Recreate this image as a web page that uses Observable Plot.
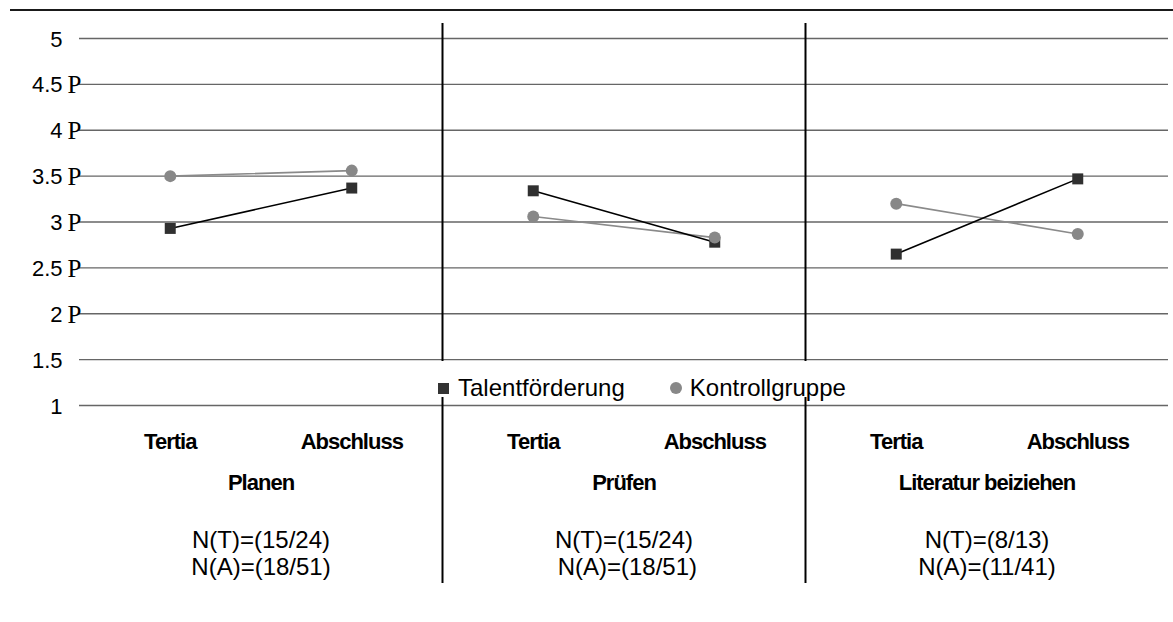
<!DOCTYPE html>
<html>
<head>
<meta charset="utf-8">
<script src="https://cdn.jsdelivr.net/npm/d3@7"></script>
<script src="https://cdn.jsdelivr.net/npm/@observablehq/plot@0.6"></script>
<style>
  html, body { margin: 0; padding: 0; background: #fff; }
  #wrap { position: relative; width: 1173px; height: 622px; font-family: "Liberation Sans", Arial, sans-serif; }
  #legend { position: absolute; left: 438px; top: 374px; height: 28px; display: flex; align-items: center; font-size: 24px; color: #000; line-height: 28px; white-space: nowrap; }
  .sq { width: 11px; height: 11px; background: #333; margin-right: 9px; }
  .ci { width: 12px; height: 12px; border-radius: 50%; background: #888; margin-left: 45px; margin-right: 8px; }
</style>
</head>
<body>
<div id="wrap"></div>
<script>
// ---- data ----
const panels = ["Planen", "Prüfen", "Literatur beiziehen"];
const times = ["Tertia", "Abschluss"];
const series = ["Talentförderung", "Kontrollgruppe"];
const talent = [2.93, 3.37, 3.34, 2.78, 2.65, 3.47];     // Planen T/A, Prüfen T/A, Literatur T/A
const kontroll = [3.50, 3.56, 3.06, 2.83, 3.20, 2.87];
const nT = ["N(T)=(15/24)", "N(T)=(15/24)", "N(T)=(8/13)"];
const nA = ["N(A)=(18/51)", " N(A)=(18/51)", "N(A)=(11/41)"];
const yTicks = [5, 4.5, 4, 3.5, 3, 2.5, 2, 1.5, 1];
const pTicks = [4.5, 4, 3.5, 3, 2.5, 2];

// ---- derived tables ----
const nTimes = times.length;
const cats = [];
panels.forEach((p, pi) => times.forEach((t, ti) => cats.push({panel: p, time: t, x: pi * nTimes + ti + 0.5})));
const rowsT = cats.map((c, i) => ({...c, value: talent[i], series: series[0]}));
const rowsK = cats.map((c, i) => ({...c, value: kontroll[i], series: series[1]}));
const panelRows = panels.map((p, pi) => ({panel: p, x: pi * nTimes + nTimes / 2, nT: nT[pi], nA: nA[pi]}));
const separators = panels.slice(1).map((p, pi) => (pi + 1) * nTimes);

const chart = Plot.plot({
  width: 1173,
  height: 622,
  marginLeft: 79,
  marginRight: 5,
  marginTop: 38,
  marginBottom: 217,
  x: {domain: [0, panels.length * nTimes], axis: null},
  y: {domain: [1, 5], axis: null},
  style: {fontFamily: "'Liberation Sans', Arial, sans-serif", color: "#000", background: "white"},
  marks: [
    Plot.ruleY(yTicks, {stroke: "#666", strokeWidth: 1.4}),
    Plot.ruleX(separators, {stroke: "#000", strokeWidth: 2, insetTop: -15, insetBottom: 44}),
    Plot.ruleX(separators, {stroke: "#000", strokeWidth: 2, insetTop: 359, insetBottom: -178}),
    Plot.text(yTicks, {y: d => d, text: d => String(d), frameAnchor: "left", textAnchor: "end", dx: -17, dy: 1, fontSize: 22, fill: "#000"}),
    Plot.text(pTicks, {y: d => d, text: () => "P", frameAnchor: "left", textAnchor: "start", dx: -12, dy: 1, fontSize: 25, fontFamily: "'Liberation Serif', 'DejaVu Serif', serif", fill: "#000"}),
    Plot.line(rowsK, {x: "x", y: "value", z: "panel", stroke: "#8a8a8a", strokeWidth: 1.6}),
    Plot.line(rowsT, {x: "x", y: "value", z: "panel", stroke: "#000", strokeWidth: 1.6}),
    Plot.dot(rowsT, {x: "x", y: "value", symbol: "square", r: 6.2, fill: "#303030", stroke: null}),
    Plot.dot(rowsK, {x: "x", y: "value", r: 6, fill: "#888", stroke: null}),
    Plot.text(cats, {x: "x", text: "time", frameAnchor: "bottom", dy: 43, fontSize: 22, fontWeight: "bold", fill: "#000"}),
    Plot.text(panelRows, {x: "x", text: "panel", frameAnchor: "bottom", dy: 84, fontSize: 22, fontWeight: "bold", fill: "#000"}),
    Plot.text(panelRows, {x: "x", text: "nT", frameAnchor: "bottom", dy: 142, fontSize: 24, fill: "#000"}),
    Plot.text(panelRows, {x: "x", text: "nA", frameAnchor: "bottom", dy: 169, fontSize: 24, fill: "#000"})
  ]
});

// decorations: top rule, condensed bold labels
const svg = d3.select(chart);
svg.insert("line", ":first-child")
  .attr("x1", 10).attr("x2", 1173).attr("y1", 10).attr("y2", 10)
  .attr("stroke", "#1a1a1a").attr("stroke-width", 2);
svg.selectAll("[font-weight=bold]").attr("letter-spacing", "-1");
svg.selectAll("text").style("white-space", "pre");

const wrap = document.getElementById("wrap");
wrap.appendChild(chart);

const legend = document.createElement("div");
legend.id = "legend";
legend.innerHTML = `<span class="sq"></span><span>${series[0]}</span><span class="ci"></span><span>${series[1]}</span>`;
wrap.appendChild(legend);
</script>
</body>
</html>
